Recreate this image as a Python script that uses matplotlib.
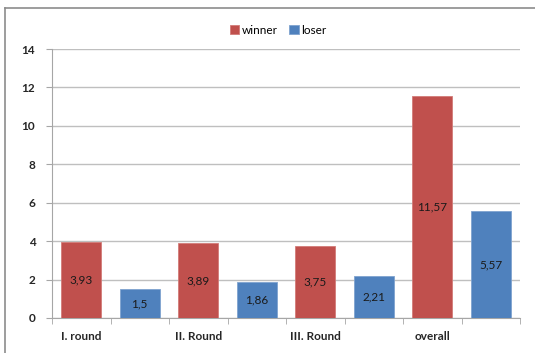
import matplotlib
matplotlib.use('Agg')
import matplotlib.pyplot as plt
from matplotlib.lines import Line2D
import numpy as np

# data
rounds = ['I. round', 'II. Round', 'III. Round', 'overall']
winner = [3.93, 3.89, 3.75, 11.57]
loser = [1.5, 1.86, 2.21, 5.57]

RED = '#C0504D'
BLUE = '#4F81BD'
GRID = '#BFBFBF'
AXIS = '#A6A6A6'

plt.rcParams['font.family'] = ['Lato', 'DejaVu Sans']

fig = plt.figure(figsize=(5.35, 3.53), dpi=100)
ax = fig.add_axes([52 / 535, 1 - 318 / 353, 468 / 535, 269 / 353])

# each round takes two slots: winner then loser
pos_w = np.arange(len(rounds)) * 2
pos_l = pos_w + 1
w = 0.69
bw = ax.bar(pos_w, winner, width=w, color=RED, edgecolor='#D27B78', linewidth=0.6, label='winner', zorder=3)
bl = ax.bar(pos_l, loser, width=w, color=BLUE, edgecolor='#7FA3CF', linewidth=0.6, label='loser', zorder=3)

for bars, vals in ((bw, winner), (bl, loser)):
    for b, v in zip(bars, vals):
        ax.text(b.get_x() + b.get_width() / 2, v / 2, f'{v:g}'.replace('.', ','),
                ha='center', va='center', fontsize=8.5, color='#1a1a1a', zorder=4)

ax.set_xlim(-0.5, 7.5)
ax.set_ylim(0, 14)
ax.set_yticks(range(0, 15, 2))
ax.set_xticks(pos_w)
ax.set_xticklabels(rounds, fontsize=8.5, fontweight='bold', color='#262626')
ax.set_xticks(np.arange(-0.5, 8, 1), minor=True)
ax.tick_params(axis='x', which='major', length=0, pad=9)
ax.tick_params(axis='x', which='minor', length=4, color=AXIS, direction='out')
ax.tick_params(axis='y', length=4, color=AXIS, labelsize=8.5, labelcolor='#262626', pad=8)
for t in ax.get_yticklabels():
    t.set_fontweight('bold')

ax.yaxis.grid(True, color=GRID, linewidth=1, zorder=0)
ax.set_axisbelow(True)
for s in ('top', 'right'):
    ax.spines[s].set_visible(False)
ax.spines['left'].set_color(AXIS)
ax.spines['bottom'].set_color(AXIS)

fig.legend(handles=[bw, bl], loc='center', bbox_to_anchor=(0.52, 1 - 30 / 353),
           ncol=2, frameon=False, fontsize=8.5, handlelength=0.8, handleheight=0.8,
           handletextpad=0.2, columnspacing=1.0)

# chart frame
fx, fy = 5 / 535, 1 - 8 / 353
fig.add_artist(Line2D([fx, 1], [fy, fy], color='#8C8C8C', linewidth=1.2, transform=fig.transFigure))
fig.add_artist(Line2D([fx, fx], [0, fy], color='#8C8C8C', linewidth=1.2, transform=fig.transFigure))

fig.savefig('out.png', dpi=100)
